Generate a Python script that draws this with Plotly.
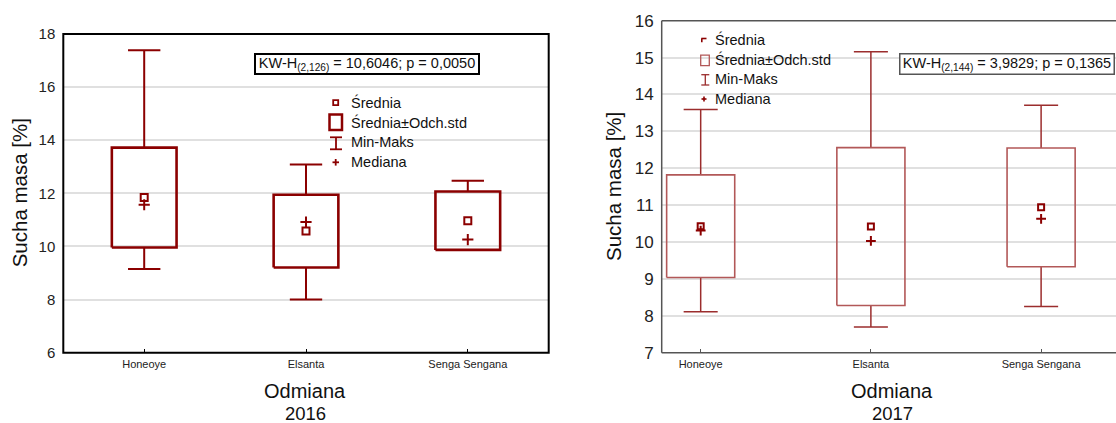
import plotly.graph_objects as go

# ---------------- data ----------------
categories = ["Honeoye", "Elsanta", "Senga Sengana"]

mean_2016 = [11.84, 10.58, 10.97]
sd_2016 = [1.88, 1.37, 1.10]
median_2016 = [11.57, 10.92, 10.26]
min_2016 = [9.15, 8.00, 9.87]
max_2016 = [17.39, 13.09, 12.47]

mean_2017 = [10.43, 10.42, 10.94]
sd_2017 = [1.39, 2.14, 1.61]
median_2017 = [10.31, 10.03, 10.63]
min_2017 = [8.11, 7.70, 8.25]
max_2017 = [13.59, 15.16, 13.71]

ytick_2016 = [6, 8, 10, 12, 14, 16, 18]
ytick_2017 = [7, 8, 9, 10, 11, 12, 13, 14, 15, 16]

kw_2016 = "KW-H<sub>(2,126)</sub> = 10,6046; p = 0,0050"
kw_2017 = "KW-H<sub>(2,144)</sub> = 3,9829; p = 0,1365"
legend_labels = ["Średnia", "Średnia±Odch.std", "Min-Maks", "Mediana"]
x_title = "Odmiana"
y_title = "Sucha masa [%]"

W, H = 1116, 423
FONT = "Liberation Sans, Arial, sans-serif"
DARK = "#8b0000"
RIGHT_BOX = "rgb(178,88,88)"
RIGHT_WH = "rgb(155,45,45)"


def P(px):
    return px / W


def Q(py):
    return 1 - py / H


fig = go.Figure()


def add_chart(xa, ya, means, sds, meds, mins, maxs, box_color, box_w, wh_color, wh_w,
              mean_size, mean_lw, med_size, med_lw):
    bx, by, wx, wy = [], [], [], []
    half, cap = 0.2, 0.1
    for i, (m, s, lo, hi) in enumerate(zip(means, sds, mins, maxs)):
        top, bot = m + s, m - s
        bx += [i - half, i + half, i + half, i - half, i - half, None]
        by += [bot, bot, top, top, bot, None]
        wx += [i, i, None, i - cap, i + cap, None, i, i, None, i - cap, i + cap, None]
        wy += [hi, top, None, hi, hi, None, bot, lo, None, lo, lo, None]
    idx = list(range(len(means)))
    fig.add_trace(go.Scatter(x=wx, y=wy, mode="lines", xaxis=xa, yaxis=ya,
                             line=dict(color=wh_color, width=wh_w), showlegend=False,
                             hoverinfo="skip"))
    fig.add_trace(go.Scatter(x=bx, y=by, mode="lines", xaxis=xa, yaxis=ya,
                             line=dict(color=box_color, width=box_w), showlegend=False,
                             hoverinfo="skip"))
    fig.add_trace(go.Scatter(x=idx, y=means, mode="markers", xaxis=xa, yaxis=ya,
                             marker=dict(symbol="square-open", size=mean_size, color=DARK,
                                         line=dict(width=mean_lw, color=DARK)),
                             showlegend=False))
    fig.add_trace(go.Scatter(x=idx, y=meds, mode="markers", xaxis=xa, yaxis=ya,
                             marker=dict(symbol="cross-thin", size=med_size, color=DARK,
                                         line=dict(width=med_lw, color=DARK)),
                             showlegend=False))


add_chart("x", "y", mean_2016, sd_2016, median_2016, min_2016, max_2016,
          DARK, 2.6, DARK, 2, 7, 2, 8, 2)
add_chart("x2", "y2", mean_2017, sd_2017, median_2017, min_2017, max_2017,
          RIGHT_BOX, 1.6, RIGHT_WH, 1.5, 6, 2, 7, 2)

xcommon = dict(tickvals=[0, 1, 2], ticktext=categories, showgrid=False, zeroline=False,
               tickfont=dict(family=FONT, size=11, color="#222"), ticks="inside",
               ticklen=4, tickwidth=1, showline=False,
               ticklabelstandoff=3, automargin=False)
ycommon = dict(showgrid=True, gridcolor="#e0e0e0", gridwidth=2, zeroline=False,
               ticks="", showline=False, ticklabelstandoff=7, automargin=False)

fig.update_layout(
    template="none",
    width=W, height=H, autosize=False,
    margin=dict(l=0, r=0, t=0, b=0, pad=0, autoexpand=False),
    paper_bgcolor="white", plot_bgcolor="white", showlegend=False,
    xaxis=dict(domain=[P(63.3), P(548.7)], range=[-0.5, 2.5], tickcolor="black",
               anchor="y", **xcommon),
    yaxis=dict(domain=[Q(352.7), Q(34)], range=[6, 18], tickvals=ytick_2016,
               tickfont=dict(family=FONT, size=15, color="#222"), anchor="x", **ycommon),
    xaxis2=dict(domain=[P(661.7), 1.0], range=[-0.229, 2.44], tickcolor="#555",
                anchor="y2", **xcommon),
    yaxis2=dict(domain=[Q(352.7), Q(20.7)], range=[7, 16], tickvals=ytick_2017,
                tickfont=dict(family=FONT, size=17, color="#222"), anchor="x2", **ycommon),
)

ann = []
ann.append(dict(x=P(19), y=Q(193.3), text=y_title, textangle=-90, showarrow=False,
                xref="paper", yref="paper", xanchor="center", yanchor="middle",
                font=dict(family=FONT, size=20.5, color="#111")))
ann.append(dict(x=P(613.3), y=Q(186.7), text=y_title, textangle=-90, showarrow=False,
                xref="paper", yref="paper", xanchor="center", yanchor="middle",
                font=dict(family=FONT, size=20.5, color="#111")))
for cx, year in [(305, "2016"), (892, "2017")]:
    ann.append(dict(x=P(cx), y=Q(391), text=x_title, showarrow=False, xref="paper",
                    yref="paper", xanchor="center", yanchor="middle",
                    font=dict(family=FONT, size=20, color="#111")))
    ann.append(dict(x=P(cx), y=Q(413), text=year, showarrow=False, xref="paper",
                    yref="paper", xanchor="center", yanchor="middle",
                    font=dict(family=FONT, size=18.5, color="#111")))

# KW-H boxes
ann.append(dict(x=P(367.2), y=Q(64.2), text=kw_2016, showarrow=False, xref="paper",
                yref="paper", xanchor="center", yanchor="middle", width=222, height=18,
                bgcolor="white", bordercolor="black", borderwidth=2, borderpad=0,
                font=dict(family=FONT, size=14.5, color="#111")))
ann.append(dict(x=P(1006.6), y=Q(63.7), text=kw_2017, showarrow=False, xref="paper",
                yref="paper", xanchor="center", yanchor="middle", width=213, height=19,
                bgcolor="white", bordercolor="#555", borderwidth=1.5, borderpad=0,
                font=dict(family=FONT, size=14.5, color="#111")))

# legend texts
for rows, tx in [([102.7, 122.3, 142.3, 162.3], 349.3), ([39.3, 60, 79.3, 99], 712.7)]:
    for lab, ry in zip(legend_labels, rows):
        ann.append(dict(x=P(tx), y=Q(ry), text=lab, showarrow=False, xref="paper",
                        yref="paper", xanchor="left", yanchor="middle",
                        font=dict(family=FONT, size=14.5, color="#111")))

shapes = []

# plot frames (drawn on the axes' domains)
shapes.append(dict(type="rect", xref="x domain", yref="y domain", x0=0, x1=1, y0=0, y1=1,
                   line=dict(color="black", width=2), layer="above"))
for x0, y0, x1, y1 in [(0, 0, 0, 1), (0, 1, 1, 1), (0, 0, 1, 0)]:
    shapes.append(dict(type="line", xref="x2 domain", yref="y2 domain", x0=x0, y0=y0,
                       x1=x1, y1=y1, line=dict(color="#555", width=1.5), layer="above"))


def pline(x0, y0, x1, y1, color, w):
    shapes.append(dict(type="line", xref="paper", yref="paper", x0=P(x0), y0=Q(y0),
                       x1=P(x1), y1=Q(y1), line=dict(color=color, width=w)))


def prect(x0, y0, x1, y1, color, w):
    shapes.append(dict(type="rect", xref="paper", yref="paper", x0=P(x0), y0=Q(y0),
                       x1=P(x1), y1=Q(y1), line=dict(color=color, width=w)))


# left legend symbols
prect(333.2, 100.2, 338.2, 105.2, DARK, 1.8)
prect(329.5, 114.5, 342, 130, DARK, 2.5)
pline(330, 137.3, 342, 137.3, DARK, 1.8)
pline(336, 137.3, 336, 149.3, DARK, 1.8)
pline(330, 149.3, 342, 149.3, DARK, 1.8)
pline(332.5, 162.3, 339, 162.3, DARK, 1.8)
pline(335.7, 159, 335.7, 165.6, DARK, 1.8)

# right legend symbols
pline(701.3, 38.5, 706.5, 38.5, DARK, 1.6)
pline(701.8, 38.5, 701.8, 42.3, DARK, 1.6)
prect(700.7, 55.2, 709.3, 65.7, RIGHT_BOX, 1.3)
pline(701.3, 74.7, 709.3, 74.7, RIGHT_WH, 1.3)
pline(705.3, 74.7, 705.3, 85, RIGHT_WH, 1.3)
pline(701.3, 85, 709.3, 85, RIGHT_WH, 1.3)
pline(701.5, 99, 706.5, 99, DARK, 1.6)
pline(704, 96.5, 704, 101.5, DARK, 1.6)

fig.update_layout(annotations=ann, shapes=shapes)
fig.write_html("out.html")
